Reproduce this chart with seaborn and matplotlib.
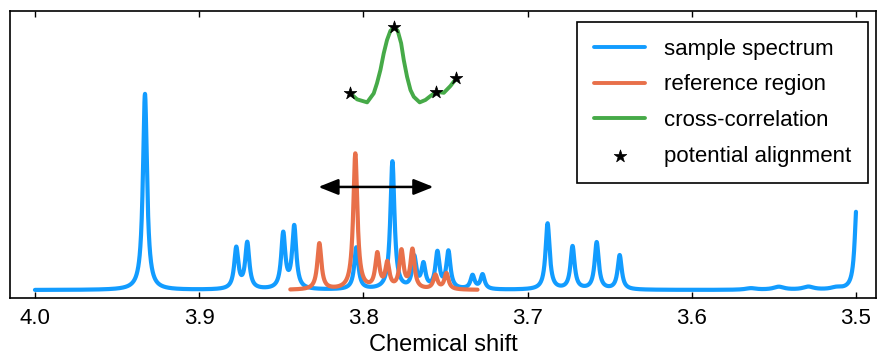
import numpy as np
import pandas as pd
import matplotlib
matplotlib.use("Agg")
import matplotlib.pyplot as plt
import seaborn as sns

# peaks of the sample spectrum (ppm, relative height, half width)
sample_centers = [3.9330, 3.8774, 3.8707, 3.8488, 3.8421, 3.8043, 3.7823, 3.7690,
                  3.7634, 3.7549, 3.7482, 3.7335, 3.7274, 3.6878, 3.6726, 3.6579,
                  3.6439, 3.5640, 3.5470, 3.5290, 3.5120, 3.4995]
sample_heights = [0.985, 0.205, 0.230, 0.276, 0.312, 0.210, 0.642, 0.155,
                  0.118, 0.180, 0.186, 0.068, 0.073, 0.332, 0.215, 0.236,
                  0.172, 0.008, 0.015, 0.015, 0.010, 0.435]
sample_widths = [0.0015] * 17 + [0.004, 0.004, 0.004, 0.004, 0.0015]

# peaks of the reference region
ref_centers = [3.8268, 3.8049, 3.7915, 3.7854, 3.7768, 3.7701, 3.7561, 3.7494]
ref_heights = [0.232, 0.682, 0.172, 0.125, 0.188, 0.195, 0.070, 0.080]
ref_range = (3.8445, 3.7305)

# cross-correlation curve
xcorr_x = [3.8083, 3.8038, 3.7977, 3.7937, 3.7917, 3.7896, 3.7876, 3.7856, 3.7835,
           3.7811, 3.7791, 3.7770, 3.7754, 3.7734, 3.7713, 3.7693, 3.7657, 3.7622,
           3.7591, 3.7555, 3.7510, 3.7470, 3.7433]
xcorr_y = [0.991, 0.958, 0.943, 0.988, 1.039, 1.106, 1.189, 1.256, 1.303,
           1.320, 1.303, 1.240, 1.156, 1.072, 1.005, 0.971, 0.943, 0.955,
           0.975, 0.996, 0.991, 1.025, 1.064]

# potential alignments
align_x = [3.8083, 3.7811, 3.7555, 3.7433]
align_y = [0.991, 1.320, 0.996, 1.064]

xticks = [4.0, 3.9, 3.8, 3.7, 3.6, 3.5]


def spectrum(x, centers, heights, widths):
  y = np.zeros_like(x)
  for c, h, w in zip(centers, heights, widths):
    y += h / (1.0 + ((x - c) / w) ** 2)
  return y


ppm = np.linspace(4.0, 3.5, 6000)
sample = pd.DataFrame({"ppm": ppm, "y": spectrum(ppm, sample_centers, sample_heights, sample_widths)})
ppm_ref = np.linspace(ref_range[0], ref_range[1], 2000)
reference = pd.DataFrame({"ppm": ppm_ref,
                          "y": spectrum(ppm_ref, ref_centers, ref_heights, [0.0015] * len(ref_centers))})
xcorr = pd.DataFrame({"ppm": xcorr_x, "y": xcorr_y})
align = pd.DataFrame({"ppm": align_x, "y": align_y})

sns.set_theme(style="ticks")
plt.rcParams["font.family"] = ["Liberation Sans", "DejaVu Sans"]
plt.rcParams["text.color"] = "black"
plt.rcParams["axes.labelcolor"] = "black"

fig = plt.figure(figsize=(8.78, 3.58), dpi=100)
ax = fig.add_axes([10 / 878, 60 / 358, 866 / 878, 287 / 358])

sns.lineplot(data=sample, x="ppm", y="y", ax=ax, color="#129cff", lw=3.0,
             estimator=None, sort=False, label="sample spectrum")
sns.lineplot(data=reference, x="ppm", y="y", ax=ax, color="#e8704a", lw=3.0,
             estimator=None, sort=False, label="reference region")
sns.lineplot(data=xcorr, x="ppm", y="y", ax=ax, color="#46aa48", lw=2.8,
             estimator=None, sort=False, label="cross-correlation")
sns.scatterplot(data=align, x="ppm", y="y", ax=ax, color="black", marker="*",
                s=90, linewidth=0.5, edgecolor="black", zorder=5, label="potential alignment")

ax.annotate("", xy=(3.7573, 0.518), xytext=(3.8274, 0.518),
            arrowprops=dict(arrowstyle="<|-|>,head_length=0.4,head_width=0.16",
                            color="black", lw=1.8, mutation_scale=30,
                            shrinkA=0, shrinkB=0))

ax.set_xlim(4.0152, 3.4878)
ax.set_ylim(-0.040, 1.402)
ax.set_xticks(xticks)
ax.set_xticklabels(["%.1f" % t for t in xticks])
ax.set_yticks([])
ax.set_xlabel("Chemical shift", fontsize=17, labelpad=4, color="black")
ax.set_ylabel("")
ax.tick_params(axis="x", direction="in", top=True, bottom=True, length=4,
               width=1, pad=7, labelsize=16, colors="black")
for s in ax.spines.values():
  s.set_visible(True)
  s.set_color("black")
  s.set_linewidth(1.2)

leg = ax.legend(loc="upper right", bbox_to_anchor=(0.9908, 0.9617), borderaxespad=0,
                fontsize=16, frameon=True, fancybox=False, framealpha=1,
                handlelength=2.3, handletextpad=0.85, borderpad=0.75,
                labelspacing=0.66, scatterpoints=1, numpoints=1)
leg.get_frame().set_edgecolor("black")
leg.get_frame().set_linewidth(1.2)
for t in leg.get_texts():
  t.set_color("black")
for h in leg.legend_handles[:3]:
  h.set_linewidth(2.8)

fig.savefig("out.png", dpi=100)
plt.close(fig)
